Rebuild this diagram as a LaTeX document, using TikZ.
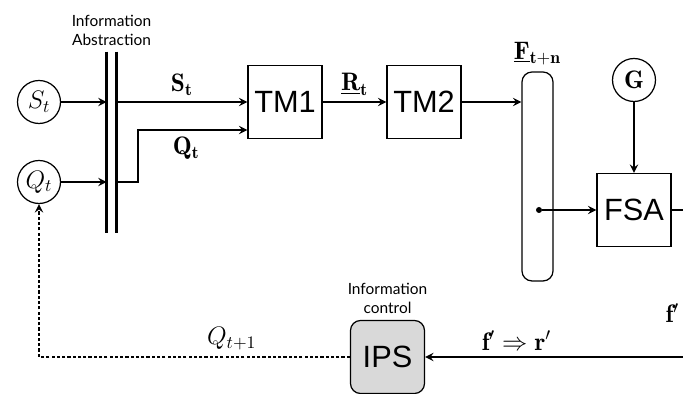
\documentclass[tikz,border=0pt]{standalone}
\usepackage{fontspec}
\newfontfamily\boxfont{Liberation Sans}
\newfontfamily\notefont{Lato}
\usetikzlibrary{shapes,arrows,positioning,calc}
\definecolor{cgray}{HTML}{d9d9d9}

\begin{document}
\begin{tikzpicture}[x=0.02cm, y=-0.02cm, font=\Large,
      box/.style={draw, line width=0.7pt, minimum width=1.48cm, minimum height=1.46cm, align=center, font=\boxfont\fontsize{17.5}{19}\selectfont},
      state/.style={draw, circle, line width=0.7pt, minimum size=0.86cm, inner sep=0pt},
      note/.style={align=center, font=\notefont\fontsize{8.8}{10.8}\selectfont},
      arr/.style={->, line width=1.1pt, >=stealth}
    ]
    \clip (0,0) rectangle (683,394);

    \node[state] (st) at (39,102) {$S_t$};
    \node[state] (qt) at (39,182) {$Q_t$};
    \node[minimum width=0.18cm, minimum height=3.62cm, inner sep=0pt] (abs) at (111.5,142.5) {};
    \draw[line width=1.8pt] (abs.north west) -- (abs.south west);
    \draw[line width=1.8pt] (abs.north east) -- (abs.south east);
    \node[note, above=0.2 of abs] {Information\\Abstraction};

    \node[box] (tm1) at (285,102) {TM1};
    \node[box] (tm2) at (424,102) {TM2};
    \node[draw, line width=0.7pt, rounded corners=0.2cm, minimum width=0.62cm, minimum height=4.18cm] (fbar) at (537.5,176.5) {};
    \node[above=0.05 of fbar] {$\underline{\mathbf{F}}_{\mathbf{t+n}}$};
    \node[circle, fill, inner sep=0pt, minimum size=0.12cm] (tap) at (539,210) {};
    \node[box] (fsa) at (634,210) {FSA};
    \node[state] (g) at (634,80) {$\mathbf{G}$};

    \node[box, rounded corners=0.2cm, fill=cgray] (ips) at (387.5,357) {IPS};
    \node[note, above=0.2 of ips] {Information\\control};

    \coordinate (tm1q) at ($(tm1.west)+(0,28)$);
    \coordinate (turn1) at (686,210);
    \coordinate (turn2) at (686,357);

    \draw[arr] (st) -- (st -| abs.west);
    \draw[arr] (qt) -- (qt -| abs.west);
    \draw[arr] (abs.east |- tm1) -- node[above] {$\mathbf{S_t}$} (tm1);
    \draw[arr] (abs.east |- qt) -- ++(22,0) |- node[below, pos=0.72] {$\mathbf{Q_t}$} (tm1q);
    \draw[arr] (tm1) -- node[above] {$\underline{\mathbf{R}}_{\mathbf{t}}$} (tm2);
    \draw[arr] (tm2) -- (tm2 -| fbar.west);
    \draw[arr] (tap) -- (fsa);
    \draw[arr] (g) -- (fsa);
    \draw[arr] (fsa) -- (turn1) -- node[left, pos=0.7] {$\mathbf{f}'$} (turn2) -- node[above, pos=0.65] {$\mathbf{f}'\Rightarrow\mathbf{r}'$} (ips);
    \draw[arr, dash pattern=on 1.8pt off 1.2pt] (ips) -| node[above, pos=0.19] {$Q_{t+1}$} (qt);
  \end{tikzpicture}
\end{document}
